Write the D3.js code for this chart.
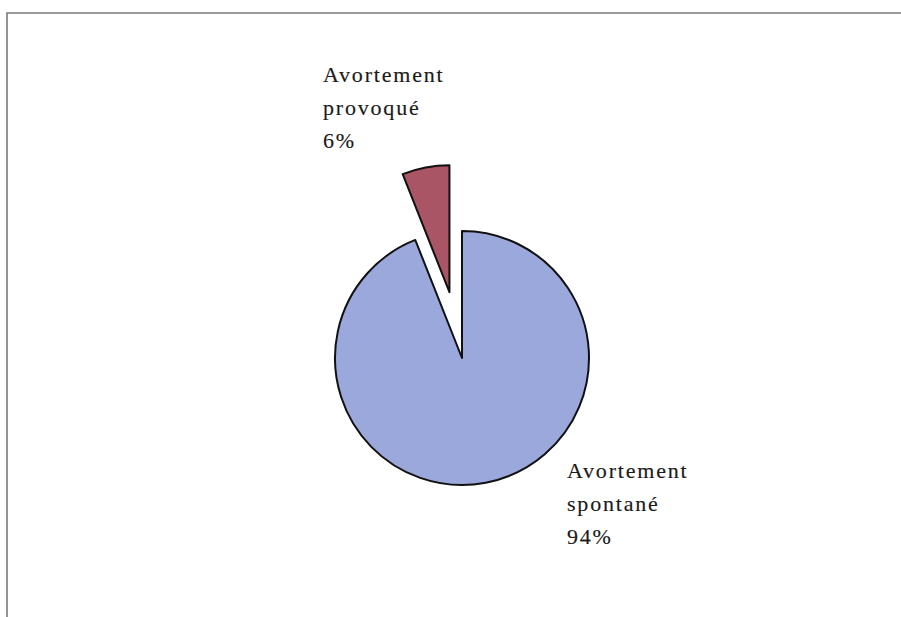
<!DOCTYPE html>
<html>
<head>
<meta charset="utf-8">
<script src="https://d3js.org/d3.v7.min.js"></script>
<style>
  body { margin: 0; background: #fff; }
</style>
</head>
<body>
<script>
// data
var categories = ["Avortement spontané", "Avortement provoqué"];
var labelLines = [["Avortement", "spontané", "94%"], ["Avortement", "provoqué", "6%"]];
var values = [94, 6];
var colors = ["#9ba8dc", "#aa5566"];
var exploded = [0, 67];

var width = 901, height = 617;
var cx = 462, cy = 358, radius = 127;

var svg = d3.select("body").append("svg")
    .attr("width", width)
    .attr("height", height);

// scanned frame (top and left edge)
svg.append("path")
    .attr("d", "M7,617V13H901")
    .attr("fill", "none")
    .attr("stroke", "#7a7a7a")
    .attr("stroke-width", 1.6);

var pie = d3.pie().sort(null).value(function (d) { return d; });
var arc = d3.arc().innerRadius(0).outerRadius(radius);
var arcs = pie(values);

var g = svg.append("g").attr("transform", "translate(" + cx + "," + cy + ")");

g.selectAll("path.slice")
  .data(arcs)
  .enter()
  .append("path")
    .attr("class", "slice")
    .attr("d", arc)
    .attr("transform", function (d, i) {
      var a = (d.startAngle + d.endAngle) / 2;
      return "translate(" + (Math.sin(a) * exploded[i]) + "," + (-Math.cos(a) * exploded[i]) + ")";
    })
    .attr("fill", function (d, i) { return colors[i]; })
    .attr("stroke", "#111")
    .attr("stroke-width", 2)
    .attr("stroke-linejoin", "round");

// labels, placed beside the slices as in the original
var labelPos = [[567, 478], [323, 82]];
var lineGap = 33;

svg.selectAll("g.label")
  .data(labelLines)
  .enter()
  .append("g")
    .attr("class", "label")
    .each(function (lines, i) {
      d3.select(this).selectAll("text")
        .data(lines)
        .enter()
        .append("text")
          .attr("x", labelPos[i][0])
          .attr("y", function (d, j) { return labelPos[i][1] + j * lineGap; })
          .attr("font-family", "'Liberation Serif', serif")
          .attr("font-size", 22)
          .attr("fill", "#1a1a1a")
          .attr("stroke", "#1a1a1a")
          .attr("stroke-width", 0.15)
          .style("letter-spacing", "1.8px")
          .text(function (d) { return d; });
    });
</script>
</body>
</html>
